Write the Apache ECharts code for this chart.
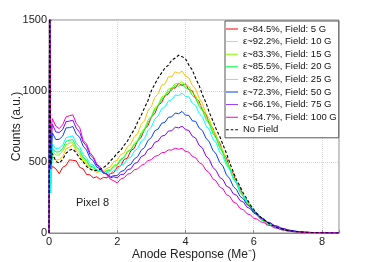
<!DOCTYPE html>
<html>
<head>
<meta charset="utf-8">
<script src="https://cdn.jsdelivr.net/npm/echarts@6/dist/echarts.min.js"></script>
<style>html,body{margin:0;padding:0;background:#fff;}#c{width:374px;height:262px;}</style>
</head>
<body>
<div id="c"></div>
<script>
var xs = [0,0.02,0.05,
0.1,0.2,0.3,0.4,0.5,0.6,0.7,0.8,0.9,1.0,
1.1,1.2,1.3,1.4,1.5,1.6,1.7,1.8,1.9,2.0,
2.1,2.2,2.3,2.4,2.5,2.6,2.7,2.8,2.9,3.0,
3.1,3.2,3.3,3.4,3.5,3.6,3.7,3.8,3.9,4.0,
4.1,4.2,4.3,4.4,4.5,4.6,4.7,4.8,4.9,5.0,
5.1,5.2,5.3,5.4,5.5,5.6,5.7,5.8,5.9,6.0,
6.1,6.2,6.3,6.4,6.5,6.6,6.7,6.8,6.9,7.0,
7.25,7.5,8,8.5];

var names = ['\u03b5~84.5%, Field: 5 G','\u03b5~92.2%, Field: 10 G','\u03b5~83.3%, Field: 15 G','\u03b5~85.5%, Field: 20 G','\u03b5~82.2%, Field: 25 G','\u03b5~72.3%, Field: 50 G','\u03b5~66.1%, Field: 75 G','\u03b5~54.7%, Field: 100 G','No Field'];

var f5 = [0,1700,430,
470,452,418,462,476,515,512,508,462,452,
412,410,388,396,378,392,388,418,425,465,
472,518,528,580,596,652,672,732,755,818,
840,900,918,970,978,1022,1020,1055,1038,1050,
1008,1002,946,928,862,838,768,740,668,638,
563,530,453,420,348,318,257,232,183,164,
124,111,82,73,53,47,34,29,21,17,
9,4,1,0];

var f10 = [0,1700,480,
545,512,518,538,594,604,622,578,552,502,
488,448,446,424,436,430,456,464,502,512,
552,562,608,626,680,700,765,790,860,890,
955,980,1040,1050,1100,1100,1135,1125,1140,1105,
1092,1040,1012,950,912,840,802,730,692,620,
582,505,462,392,356,294,263,215,189,148,
128,99,86,66,56,43,36,26,22,15,
9,4,1,0];

var f15 = [0,1700,420,
575,548,550,574,622,632,636,592,566,518,
500,464,457,435,437,426,443,447,476,486,
522,534,575,590,633,652,708,735,794,822,
881,904,957,972,1014,1020,1054,1050,1066,1040,
1033,987,966,910,880,817,783,717,681,614,
576,504,464,394,358,295,265,214,191,148,
130,98,87,64,57,41,36,25,21,14,
8,4,1,0];

var f20 = [0,1700,330,
595,570,572,594,646,654,658,608,582,534,
512,472,464,438,438,422,438,440,470,476,
514,532,572,584,622,644,696,722,778,812,
868,892,942,958,998,1004,1038,1034,1048,1022,
1014,968,948,892,862,802,768,702,668,602,
562,492,452,382,348,285,257,206,184,143,
126,94,84,61,55,38,34,24,20,13,
7,3,1,0];

var f25 = [0,1700,280,
625,594,598,618,672,678,684,632,608,552,
532,488,478,444,442,418,426,418,442,444,
478,486,524,534,578,594,645,666,722,746,
802,824,875,888,930,938,972,968,986,962,
958,914,896,842,816,756,728,664,634,570,
540,476,446,384,354,298,270,222,198,158,
140,108,95,72,62,46,40,28,24,17,
9,4,1,0];

var f50 = [0,1700,450,
705,658,660,682,740,742,750,696,674,612,
584,528,508,464,452,420,416,396,404,404,
432,440,472,484,522,538,582,602,652,672,
720,732,772,780,815,818,845,840,856,830,
828,790,786,740,720,668,642,584,556,498,
470,410,382,328,304,258,240,200,185,150,
138,108,100,77,71,52,48,34,31,22,
12,6,1,0];

var f75 = [0,1700,600,
765,712,708,728,784,788,794,738,708,642,
612,552,528,478,462,424,416,388,396,388,
412,414,446,452,488,498,538,548,588,598,
638,648,682,688,718,720,746,740,752,728,
722,682,668,618,598,542,518,462,440,392,
376,330,318,276,266,228,218,182,172,140,
130,104,96,75,68,51,46,34,30,21,
11,5,1,0];

var f100 = [0,1700,700,
805,752,735,762,818,826,832,772,742,652,
628,566,538,486,466,426,410,378,368,352,
380,388,414,420,445,452,476,486,510,516,
540,546,565,568,585,584,597,590,596,574,
570,540,530,496,482,442,424,382,366,325,
310,270,258,218,208,172,164,136,128,104,
98,79,74,56,52,37,34,23,20,13,
7,3,1,0];

var noField = [0,1700,480,
560,505,492,518,562,582,592,562,528,502,
468,452,438,442,448,462,478,508,532,562,
582,618,648,692,728,782,828,882,932,1002,
1048,1092,1128,1162,1182,1218,1232,1252,1242,1228,
1182,1148,1088,1038,972,918,848,792,732,682,
622,562,492,432,372,328,278,242,198,166,
134,113,91,76,59,49,37,31,22,18,
10,5,1,0];

var xTicks = [0,2,4,6,8];
var yTicks = [0,500,1000,1500];

var colors = ['#ff0000','#ffbf00','#80ff00','#00ff40','#00ffff','#0040ff','#8000ff','#ff00bf','#000000'];
var allData = [f5,f10,f15,f20,f25,f50,f75,f100,noField];

var solidIcon = 'path://M0,0L0.01,0L0.01,0.01Z M0,4.55H12V5.45H0Z M0,10L0.01,10L0.01,9.99Z';
var dashIcon = 'path://M0,0L0.01,0L0.01,0.01Z M0,4.5H2.6V5.5H0Z M4.6,4.5H7.2V5.5H4.6Z M9.2,4.5H11.8V5.5H9.2Z M0,10L0.01,10L0.01,9.99Z';

function pairs(ys){ return xs.map(function(x,i){ return [x, ys[i]]; }); }

var series = allData.map(function(ys, k){
  return {
    name: names[k], type: 'line', data: pairs(ys), symbol: 'none',
    clip: true, z: 2 + k,
    lineStyle: { color: colors[k], width: k === 8 ? 1.1 : 1, type: k === 8 ? [3,2] : 'solid' },
    itemStyle: { color: colors[k] }
  };
});

var legendData = names.map(function(n, k){ return { name: n, icon: k === 8 ? dashIcon : solidIcon }; });

var chart = echarts.init(document.getElementById('c'), null, {renderer: 'canvas'});
chart.setOption({
  animation: false,
  backgroundColor: '#fff',
  textStyle: { fontFamily: 'Liberation Sans, Arial, sans-serif' },
  grid: { left: 49, right: 35, top: 20, bottom: 29, containLabel: false, outerBoundsMode: 'none', show: true, borderColor: '#888', borderWidth: 1, backgroundColor: 'transparent' },
  xAxis: {
    type: 'value', min: 0, max: 8.5, interval: 2,
    name: 'Anode Response (Me\u207b)', nameLocation: 'middle', nameGap: 16, nameMoveOverlap: false,
    nameTextStyle: { fontSize: 12, color: '#222', fontFamily: 'Liberation Sans, Arial, sans-serif', verticalAlign: 'top' },
    axisLine: { show: true, lineStyle: { color: '#888', width: 1 } },
    axisTick: { show: true, inside: true, length: 3, lineStyle: { color: '#888' } },
    axisLabel: { fontSize: 11, color: '#222', margin: 3, formatter: function(v){ return xTicks.indexOf(v) >= 0 ? String(v) : ''; } },
    splitLine: { show: true, lineStyle: { type: 'dotted', color: '#d4d4d4', width: 1 } }
  },
  yAxis: {
    type: 'value', min: 0, max: 1500, interval: 500,
    name: 'Counts (a.u.)', nameLocation: 'middle', nameGap: 26, nameRotate: 90, nameMoveOverlap: false,
    nameTextStyle: { fontSize: 12, color: '#222', fontFamily: 'Liberation Sans, Arial, sans-serif' },
    axisLine: { show: true, lineStyle: { color: '#888', width: 1 } },
    axisTick: { show: true, inside: true, length: 3, lineStyle: { color: '#888' } },
    axisLabel: { fontSize: 11, color: '#222', margin: 2, formatter: function(v){ return yTicks.indexOf(v) >= 0 ? String(v) : ''; } },
    splitLine: { show: true, lineStyle: { type: 'dotted', color: '#d4d4d4', width: 1 } }
  },
  legend: {
    orient: 'vertical', left: 225, top: 21,
    padding: [3, 2, 3, 1], itemWidth: 12, itemHeight: 10, itemGap: 2.6,
    backgroundColor: '#fff', borderColor: '#555', borderWidth: 1,
    itemStyle: { borderWidth: 0 },
    textStyle: { fontSize: 9.5, color: '#111', lineHeight: 10, fontFamily: 'Liberation Sans, Arial, sans-serif' },
    data: legendData
  },
  graphic: [{
    type: 'text', left: 76, top: 197,
    style: { text: 'Pixel 8', fontSize: 11, fill: '#222', fontFamily: 'Liberation Sans, Arial, sans-serif' }
  }],
  series: series
});
</script>
</body>
</html>
